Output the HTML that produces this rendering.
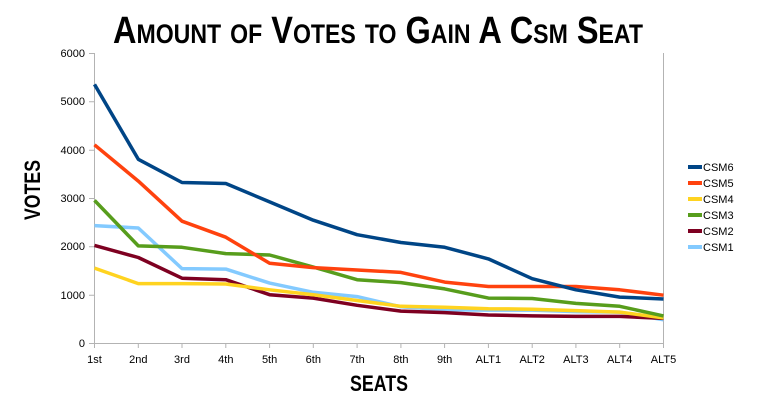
<!DOCTYPE html>
<html><head><meta charset="utf-8"><style>
html,body{margin:0;padding:0;background:#fff;}
svg{display:block;font-family:"Liberation Sans",sans-serif;}
</style></head><body>
<svg width="758" height="404" viewBox="0 0 758 404" xmlns="http://www.w3.org/2000/svg">
<rect width="758" height="404" fill="#fff"/>
<text x="113" y="43" font-family="Liberation Sans Narrow, Liberation Sans, sans-serif" font-weight="bold" font-size="38" textLength="530" lengthAdjust="spacingAndGlyphs" style="font-variant:small-caps" fill="#000">Amount of Votes to Gain A Csm Seat</text>
<text x="379" y="391" text-anchor="middle" font-weight="bold" font-size="22" textLength="58" lengthAdjust="spacingAndGlyphs" fill="#000">SEATS</text>
<text transform="translate(40,190) rotate(-90)" text-anchor="middle" font-weight="bold" font-size="22" textLength="60" lengthAdjust="spacingAndGlyphs" fill="#000">VOTES</text>
<g stroke="#b3b3b3" stroke-width="1" fill="none">
<line x1="94.5" y1="53" x2="94.5" y2="343"/>
<line x1="663.5" y1="53" x2="663.5" y2="343"/>
<line x1="94" y1="343.5" x2="664" y2="343.5"/>
<path d="M89 53.5h5M89 101.8h5M89 150.2h5M89 198.5h5M89 246.8h5M89 295.2h5M89 343.5h5"/>
<path d="M94.5 343v5M138.3 343v5M182 343v5M225.8 343v5M269.6 343v5M313.3 343v5M357.1 343v5M400.9 343v5M444.6 343v5M488.4 343v5M532.2 343v5M575.9 343v5M619.7 343v5M663.5 343v5"/>
</g>
<g font-size="11" fill="#000" text-anchor="end">
<text x="85" y="57">6000</text><text x="85" y="105">5000</text><text x="85" y="154">4000</text><text x="85" y="202">3000</text><text x="85" y="250">2000</text><text x="85" y="299">1000</text><text x="85" y="347">0</text>
</g>
<g font-size="11" fill="#000" text-anchor="middle">
<text x="94.5" y="363">1st</text><text x="138.3" y="363">2nd</text><text x="182" y="363">3rd</text><text x="225.8" y="363">4th</text><text x="269.6" y="363">5th</text><text x="313.3" y="363">6th</text><text x="357.1" y="363">7th</text><text x="400.9" y="363">8th</text><text x="444.6" y="363">9th</text><text x="488.4" y="363">ALT1</text><text x="532.2" y="363">ALT2</text><text x="575.9" y="363">ALT3</text><text x="619.7" y="363">ALT4</text><text x="663.5" y="363">ALT5</text>
</g>
<g fill="none" stroke-width="3.5" stroke-linejoin="round">
<polyline stroke="#83caff" points="94.5,225.6 138.3,228.0 182.0,268.6 225.8,269.1 269.6,283.1 313.3,292.3 357.1,296.6 400.9,306.8 444.7,309.7 488.4,310.1 532.2,310.1 575.9,311.6 619.7,312.1 663.5,319.8"/>
<polyline stroke="#7e0021" points="94.5,245.4 138.3,257.5 182.0,278.2 225.8,279.7 269.6,294.7 313.3,298.1 357.1,305.3 400.9,311.1 444.7,312.6 488.4,315.0 532.2,315.9 575.9,316.4 619.7,316.4 663.5,318.4"/>
<polyline stroke="#ffd320" points="94.5,268.1 138.3,283.6 182.0,283.6 225.8,284.0 269.6,289.8 313.3,294.7 357.1,300.5 400.9,306.3 444.7,307.2 488.4,308.7 532.2,309.2 575.9,310.6 619.7,312.1 663.5,317.9"/>
<polyline stroke="#579d1c" points="94.5,200.4 138.3,245.9 182.0,247.3 225.8,253.6 269.6,255.0 313.3,267.1 357.1,279.7 400.9,282.6 444.7,288.9 488.4,298.1 532.2,298.5 575.9,303.4 619.7,306.3 663.5,315.9"/>
<polyline stroke="#ff420e" points="94.5,144.8 138.3,181.1 182.0,221.2 225.8,237.2 269.6,263.3 313.3,267.6 357.1,270.0 400.9,272.4 444.7,282.1 488.4,286.5 532.2,286.5 575.9,286.5 619.7,289.8 663.5,295.2"/>
<polyline stroke="#004586" points="94.5,84.4 138.3,159.3 182.0,182.5 225.8,183.5 269.6,201.9 313.3,220.2 357.1,234.7 400.9,242.5 444.7,247.3 488.4,258.9 532.2,278.7 575.9,289.8 619.7,297.1 663.5,299.0"/>
</g>
<g font-size="11" fill="#000">
<rect x="688" y="165" width="14" height="4" fill="#004586"/><text x="703" y="171">CSM6</text>
<rect x="688" y="181" width="14" height="4" fill="#ff420e"/><text x="703" y="187">CSM5</text>
<rect x="688" y="197" width="14" height="4" fill="#ffd320"/><text x="703" y="203">CSM4</text>
<rect x="688" y="213" width="14" height="4" fill="#579d1c"/><text x="703" y="219">CSM3</text>
<rect x="688" y="229" width="14" height="4" fill="#7e0021"/><text x="703" y="235">CSM2</text>
<rect x="688" y="245" width="14" height="4" fill="#83caff"/><text x="703" y="251">CSM1</text>
</g>
</svg>
</body></html>
